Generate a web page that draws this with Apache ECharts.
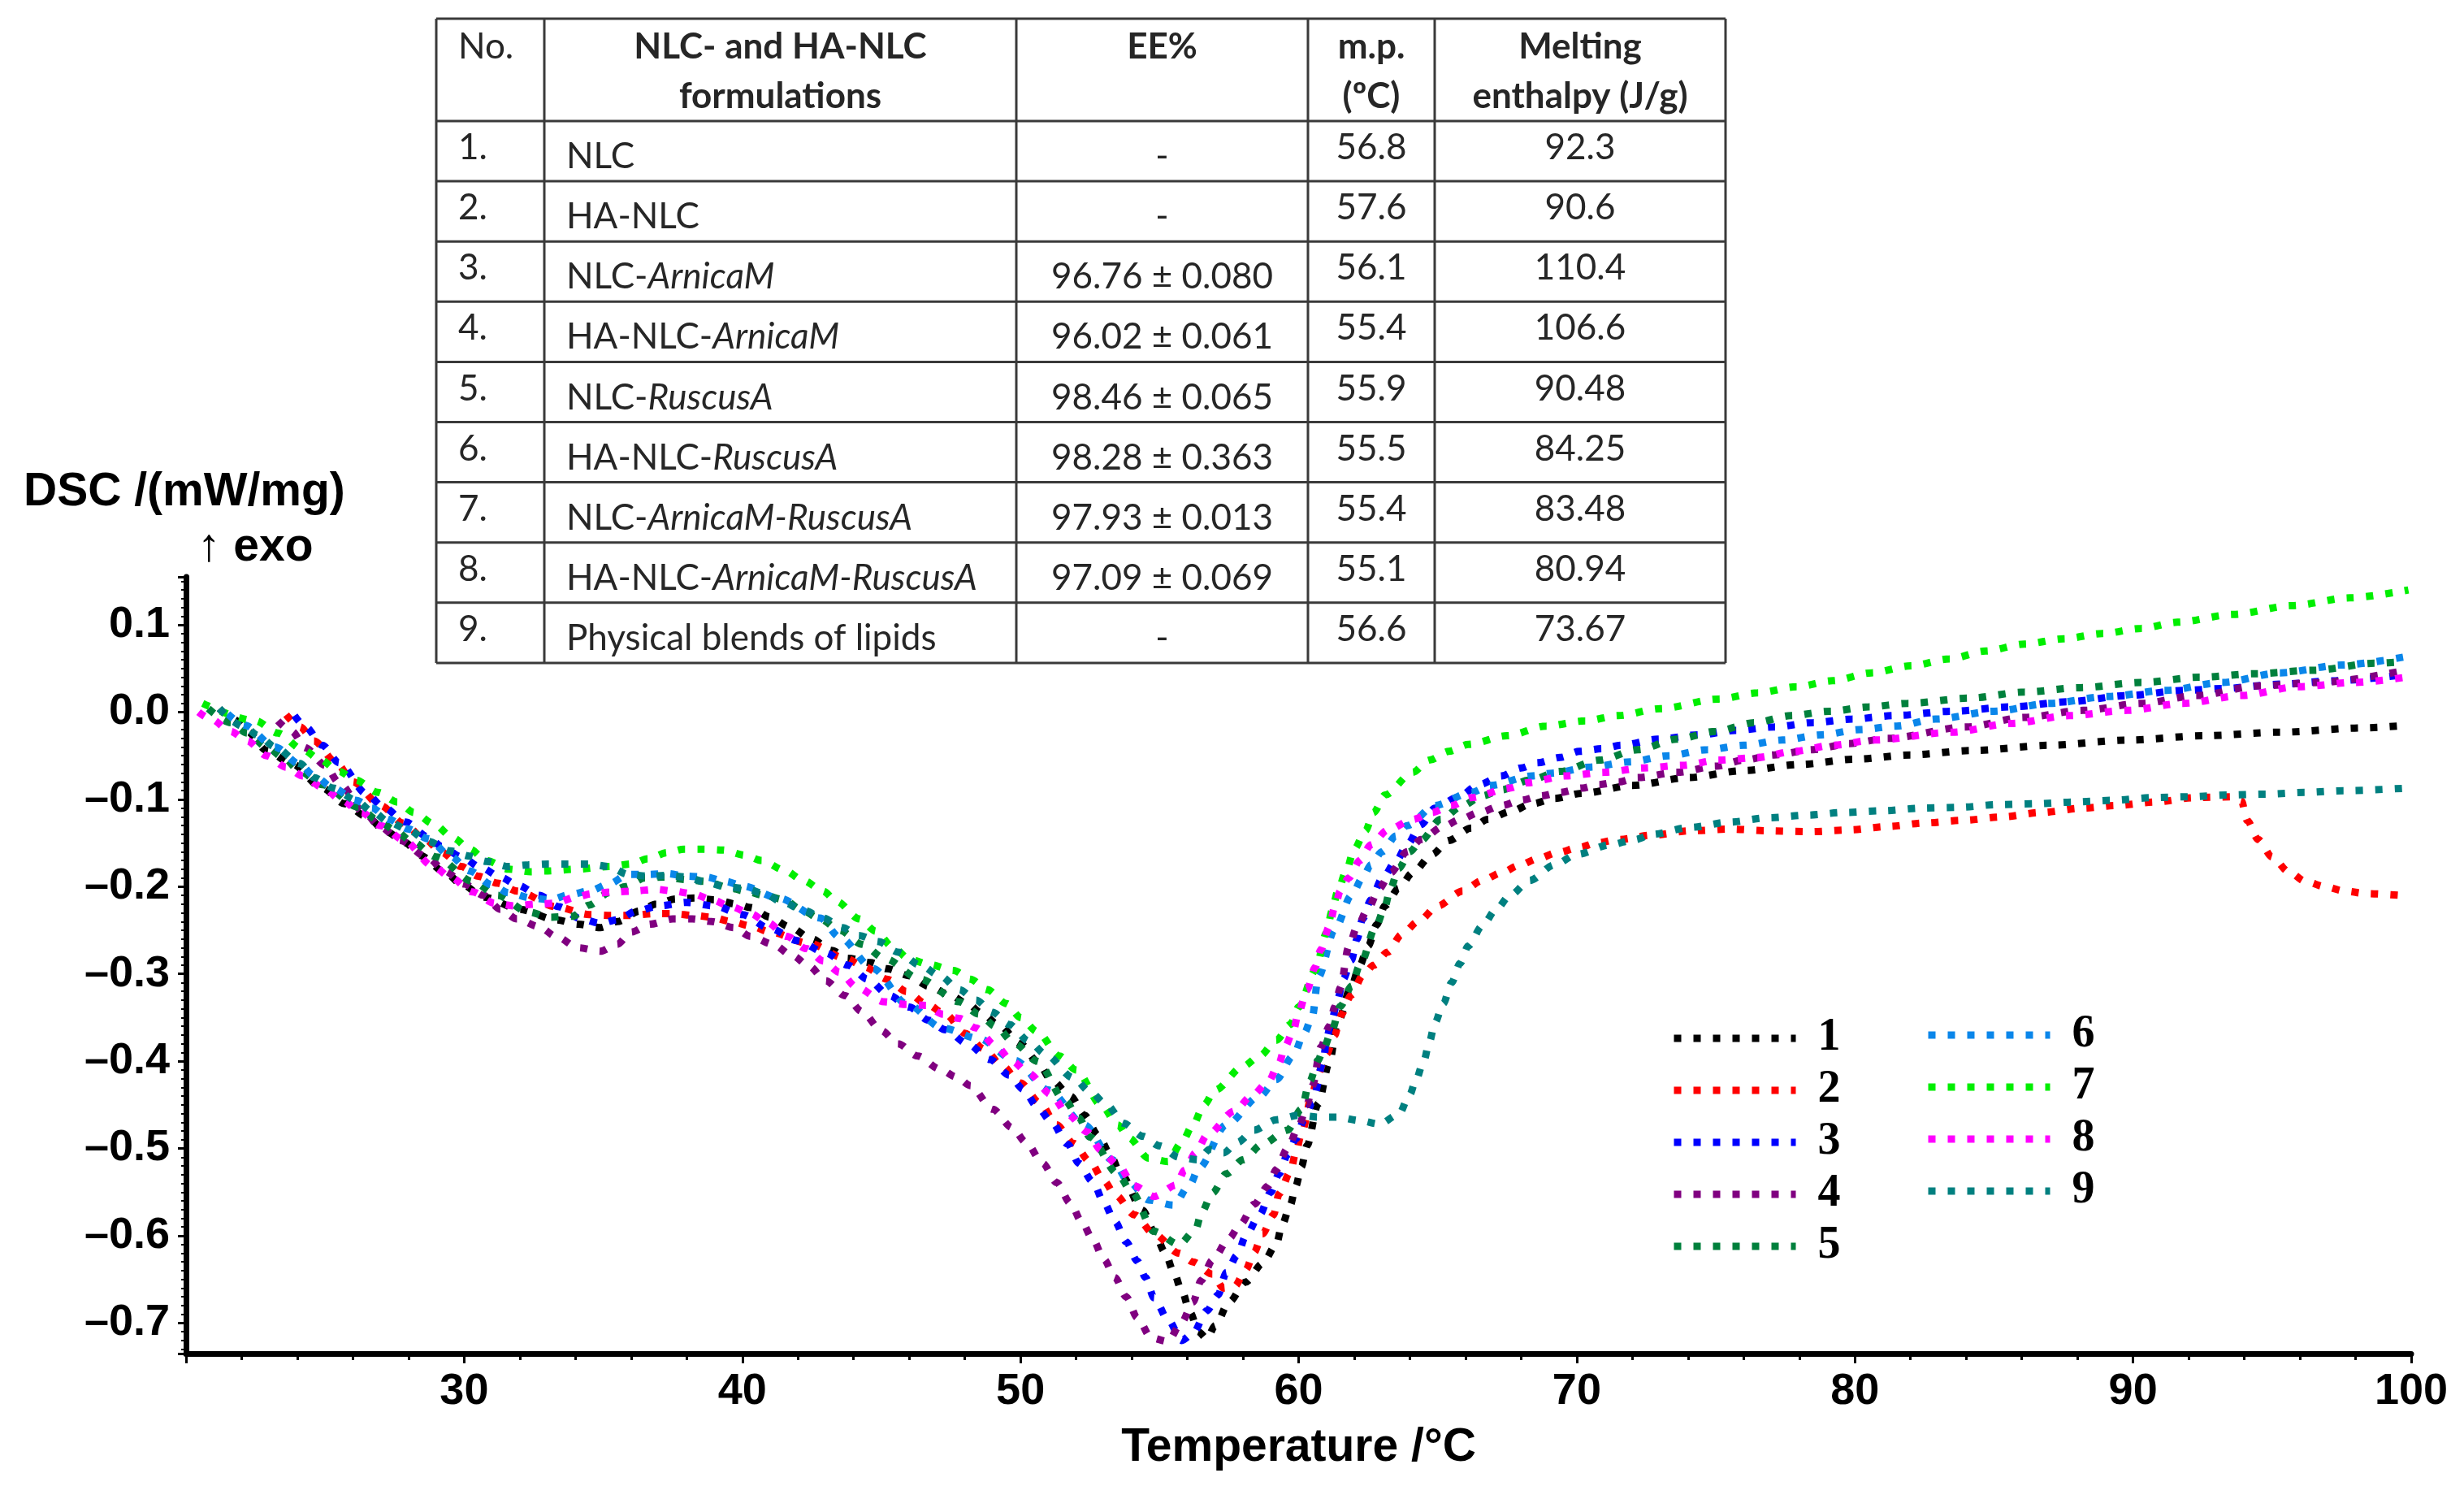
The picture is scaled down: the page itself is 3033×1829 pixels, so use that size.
<!DOCTYPE html>
<html>
<head>
<meta charset="utf-8">
<title>DSC curves</title>
<script src="https://cdn.jsdelivr.net/npm/echarts@6/dist/echarts.min.js"></script>
<style>
html, body { margin: 0; padding: 0; background: #fff; }
#main { width: 3033px; height: 1829px; }
</style>
</head>
<body>
<div id="main"></div>
<script>
'use strict';

// --- curves: [temperature (°C), DSC (mW/mg)] ---
var curve1 = [[21.2,0.004],[21.7,-0.008],[22.2,-0.022],[22.9,-0.044],[23.8,-0.059],[24.9,-0.087],[25.7,-0.105],[26.5,-0.12],[27.2,-0.137],[27.9,-0.15],[28.4,-0.164],[29.3,-0.183],[29.9,-0.197],[30.7,-0.212],[32.0,-0.226],[33.3,-0.238],[34.1,-0.243],[34.9,-0.247],[35.5,-0.24],[36.3,-0.228],[36.9,-0.22],[37.6,-0.214],[38.3,-0.213],[39.0,-0.215],[39.8,-0.22],[40.3,-0.224],[41.0,-0.235],[41.7,-0.246],[42.5,-0.26],[43.2,-0.273],[43.8,-0.282],[44.6,-0.287],[45.2,-0.294],[46.0,-0.302],[46.7,-0.314],[47.4,-0.323],[48.1,-0.334],[48.6,-0.345],[49.2,-0.358],[50.0,-0.38],[50.6,-0.4],[51.1,-0.421],[51.8,-0.44],[52.3,-0.462],[52.8,-0.485],[53.2,-0.505],[53.6,-0.529],[54.4,-0.571],[54.8,-0.595],[55.2,-0.619],[55.5,-0.641],[55.8,-0.663],[56.1,-0.688],[56.4,-0.71],[56.7,-0.718],[57.0,-0.703],[57.5,-0.676],[58.1,-0.653],[58.7,-0.632],[59.2,-0.61],[59.4,-0.588],[59.7,-0.565],[59.9,-0.543],[60.1,-0.521],[60.3,-0.497],[60.7,-0.449],[61.1,-0.402],[61.4,-0.356],[61.9,-0.314],[62.2,-0.29],[62.5,-0.268],[62.8,-0.244],[63.1,-0.222],[63.6,-0.202],[64.1,-0.184],[64.8,-0.163],[65.4,-0.147],[66.2,-0.133],[66.8,-0.123],[67.6,-0.114],[68.4,-0.105],[69.2,-0.099],[70.2,-0.093],[72.0,-0.084],[74.0,-0.075],[76.0,-0.067],[78.0,-0.06],[80.0,-0.054],[82.0,-0.049],[84.2,-0.044],[87.0,-0.038],[89.8,-0.032],[92.6,-0.027],[95.3,-0.023],[98.3,-0.018],[99.9,-0.015]];
var curve2 = [[23.6,-0.003],[24.1,-0.017],[24.6,-0.033],[25.4,-0.058],[26.0,-0.08],[27.0,-0.107],[27.8,-0.127],[28.6,-0.146],[29.2,-0.161],[29.9,-0.177],[30.5,-0.188],[31.2,-0.196],[31.9,-0.205],[33.3,-0.223],[34.5,-0.232],[35.3,-0.233],[36.0,-0.233],[36.8,-0.231],[37.5,-0.231],[38.3,-0.233],[38.9,-0.235],[39.6,-0.24],[40.3,-0.245],[41.0,-0.252],[42.4,-0.265],[43.7,-0.282],[44.4,-0.292],[45.2,-0.306],[45.9,-0.32],[46.6,-0.334],[47.3,-0.346],[48.0,-0.368],[48.7,-0.386],[49.3,-0.404],[50.0,-0.425],[50.7,-0.448],[51.3,-0.473],[51.9,-0.494],[52.5,-0.515],[53.0,-0.537],[53.4,-0.553],[54.1,-0.576],[54.8,-0.598],[55.7,-0.62],[56.2,-0.63],[56.9,-0.644],[57.3,-0.66],[57.7,-0.658],[58.1,-0.639],[58.4,-0.619],[58.7,-0.598],[59.1,-0.576],[59.3,-0.552],[59.7,-0.527],[59.9,-0.505],[60.1,-0.483],[60.5,-0.437],[60.7,-0.414],[61.0,-0.392],[61.3,-0.37],[61.5,-0.348],[61.9,-0.324],[62.3,-0.302],[62.7,-0.29],[63.2,-0.275],[63.7,-0.255],[64.3,-0.24],[65.0,-0.222],[65.9,-0.205],[66.6,-0.193],[67.3,-0.184],[67.9,-0.176],[68.6,-0.168],[69.3,-0.161],[70.1,-0.155],[70.7,-0.15],[71.5,-0.146],[72.7,-0.141],[74.1,-0.136],[75.5,-0.134],[76.9,-0.136],[78.4,-0.137],[79.8,-0.135],[81.2,-0.131],[82.5,-0.127],[83.9,-0.124],[85.3,-0.12],[86.7,-0.115],[88.2,-0.11],[89.4,-0.107],[90.8,-0.103],[92.2,-0.098],[93.6,-0.097],[93.9,-0.102],[94.1,-0.124],[94.5,-0.146],[95.0,-0.166],[95.6,-0.183],[96.2,-0.194],[96.9,-0.2],[97.6,-0.205],[98.4,-0.208],[99.6,-0.21]];
var curve3 = [[23.9,-0.004],[24.3,-0.017],[24.9,-0.038],[25.5,-0.058],[26.5,-0.094],[27.1,-0.109],[27.9,-0.126],[28.7,-0.143],[29.2,-0.154],[29.9,-0.166],[30.6,-0.178],[31.3,-0.189],[31.9,-0.198],[32.7,-0.21],[33.4,-0.223],[34.2,-0.237],[34.9,-0.242],[35.5,-0.238],[36.2,-0.228],[37.0,-0.222],[38.0,-0.218],[39.0,-0.222],[40.0,-0.232],[41.0,-0.248],[42.0,-0.262],[43.0,-0.276],[43.8,-0.29],[44.5,-0.306],[45.3,-0.325],[46.0,-0.338],[46.7,-0.353],[47.3,-0.364],[48.1,-0.38],[48.9,-0.398],[49.6,-0.416],[50.1,-0.432],[50.6,-0.452],[51.1,-0.469],[51.7,-0.495],[52.1,-0.517],[52.6,-0.538],[53.0,-0.562],[53.4,-0.584],[53.8,-0.607],[54.2,-0.629],[54.5,-0.648],[54.8,-0.671],[55.3,-0.696],[55.8,-0.72],[56.2,-0.712],[56.7,-0.686],[57.1,-0.668],[57.4,-0.642],[57.8,-0.622],[58.1,-0.6],[58.6,-0.576],[59.0,-0.55],[59.3,-0.529],[59.6,-0.507],[59.9,-0.489],[60.2,-0.467],[60.5,-0.447],[60.9,-0.399],[61.0,-0.374],[61.2,-0.352],[61.4,-0.33],[61.6,-0.306],[61.9,-0.284],[62.1,-0.26],[62.3,-0.237],[62.6,-0.215],[63.0,-0.191],[63.5,-0.171],[63.9,-0.152],[64.4,-0.129],[64.9,-0.11],[65.7,-0.098],[66.5,-0.083],[67.3,-0.073],[68.0,-0.064],[68.6,-0.058],[69.4,-0.052],[70.1,-0.045],[70.9,-0.042],[71.6,-0.038],[72.9,-0.031],[74.4,-0.026],[75.7,-0.021],[77.1,-0.017],[78.5,-0.012],[79.9,-0.008],[81.4,-0.004],[83.5,0.001],[85.6,0.006],[87.7,0.012],[89.8,0.019],[91.9,0.025],[93.2,0.027],[95.3,0.032],[97.3,0.036],[99.8,0.043]];
var curve4 = [[23.3,-0.01],[23.8,-0.022],[24.3,-0.041],[25.0,-0.061],[25.5,-0.081],[26.4,-0.115],[27.0,-0.132],[27.7,-0.147],[28.7,-0.167],[29.3,-0.182],[30.0,-0.197],[30.7,-0.21],[31.3,-0.226],[31.9,-0.237],[32.7,-0.246],[33.3,-0.257],[34.1,-0.27],[34.9,-0.274],[35.5,-0.266],[36.0,-0.252],[36.7,-0.243],[37.5,-0.237],[38.2,-0.237],[38.9,-0.24],[39.7,-0.247],[40.3,-0.257],[41.1,-0.266],[41.8,-0.279],[42.4,-0.291],[43.0,-0.308],[43.7,-0.325],[44.3,-0.343],[45.0,-0.365],[45.6,-0.38],[46.3,-0.394],[47.1,-0.409],[47.7,-0.418],[48.2,-0.428],[49.0,-0.455],[49.7,-0.476],[50.2,-0.493],[50.8,-0.517],[51.3,-0.539],[51.8,-0.563],[52.2,-0.584],[52.6,-0.604],[53.0,-0.627],[53.4,-0.648],[53.8,-0.67],[54.2,-0.694],[54.7,-0.717],[55.3,-0.721],[55.8,-0.699],[56.2,-0.676],[56.5,-0.651],[56.9,-0.628],[57.5,-0.603],[57.9,-0.587],[58.4,-0.564],[58.9,-0.543],[59.2,-0.524],[59.6,-0.5],[60.0,-0.475],[60.3,-0.45],[60.5,-0.428],[60.8,-0.384],[61.1,-0.36],[61.3,-0.338],[61.5,-0.316],[61.8,-0.269],[62.1,-0.246],[62.5,-0.225],[62.9,-0.202],[63.3,-0.184],[63.9,-0.16],[64.4,-0.146],[65.2,-0.131],[65.8,-0.123],[66.5,-0.115],[67.3,-0.107],[68.0,-0.101],[68.7,-0.096],[69.4,-0.092],[70.2,-0.087],[70.8,-0.083],[71.5,-0.08],[72.2,-0.075],[73.6,-0.069],[75.0,-0.062],[76.0,-0.055],[77.1,-0.049],[78.5,-0.043],[79.8,-0.036],[81.2,-0.03],[84.0,-0.017],[86.1,-0.006],[88.2,0.002],[90.3,0.01],[92.3,0.019],[94.5,0.03],[96.7,0.034],[99.8,0.048]];
var curve5 = [[20.8,0.004],[21.6,-0.012],[22.2,-0.024],[22.9,-0.04],[23.5,-0.052],[24.1,-0.068],[24.9,-0.083],[26.2,-0.109],[26.9,-0.124],[27.5,-0.135],[28.1,-0.148],[29.0,-0.166],[30.3,-0.194],[31.2,-0.21],[32.3,-0.229],[33.1,-0.235],[33.9,-0.234],[34.5,-0.221],[35.2,-0.207],[35.8,-0.2],[36.5,-0.19],[37.2,-0.189],[38.0,-0.192],[38.7,-0.194],[39.5,-0.201],[40.1,-0.205],[40.8,-0.21],[41.5,-0.215],[42.1,-0.226],[42.8,-0.237],[43.5,-0.25],[44.3,-0.266],[45.1,-0.282],[46.4,-0.306],[47.8,-0.332],[48.5,-0.346],[49.1,-0.36],[49.8,-0.38],[50.6,-0.4],[51.6,-0.445],[52.1,-0.465],[52.5,-0.487],[53.5,-0.529],[54.0,-0.55],[54.8,-0.595],[55.7,-0.61],[56.3,-0.593],[56.5,-0.574],[56.9,-0.551],[57.4,-0.529],[58.0,-0.513],[58.7,-0.495],[59.6,-0.479],[60.1,-0.455],[60.4,-0.423],[60.7,-0.399],[60.9,-0.385],[61.2,-0.364],[61.5,-0.337],[61.9,-0.314],[62.2,-0.29],[62.8,-0.244],[63.1,-0.223],[63.3,-0.202],[63.6,-0.179],[64.0,-0.16],[64.4,-0.147],[65.1,-0.123],[65.9,-0.107],[66.6,-0.096],[67.3,-0.089],[68.3,-0.078],[69.4,-0.068],[70.8,-0.055],[72.2,-0.043],[73.6,-0.031],[75.0,-0.022],[76.4,-0.012],[77.7,-0.004],[79.1,0.001],[80.5,0.006],[81.9,0.01],[84.1,0.016],[86.1,0.023],[88.1,0.028],[90.3,0.034],[92.4,0.04],[94.4,0.044],[96.5,0.048],[98.7,0.056],[99.8,0.058]];
var curve6 = [[21.5,-0.002],[22.1,-0.015],[23.2,-0.04],[24.1,-0.06],[24.6,-0.073],[25.3,-0.087],[26.1,-0.101],[26.7,-0.11],[27.3,-0.123],[28.0,-0.134],[28.7,-0.145],[29.5,-0.165],[30.2,-0.182],[31.0,-0.198],[31.6,-0.207],[32.4,-0.213],[33.1,-0.215],[33.8,-0.209],[34.5,-0.205],[35.2,-0.197],[35.9,-0.186],[36.6,-0.186],[37.3,-0.185],[38.0,-0.188],[38.7,-0.189],[39.4,-0.194],[40.0,-0.199],[41.3,-0.213],[42.8,-0.236],[43.5,-0.258],[44.7,-0.294],[45.9,-0.334],[47.2,-0.362],[48.5,-0.374],[49.8,-0.399],[51.0,-0.433],[52.3,-0.473],[53.3,-0.513],[53.9,-0.538],[54.6,-0.559],[55.5,-0.565],[56.1,-0.541],[56.4,-0.523],[57.4,-0.473],[58.6,-0.44],[59.2,-0.421],[59.8,-0.394],[60.2,-0.368],[60.5,-0.348],[60.7,-0.304],[61.3,-0.249],[61.9,-0.21],[62.3,-0.19],[62.6,-0.175],[63.0,-0.16],[63.5,-0.142],[63.9,-0.13],[64.9,-0.107],[66.2,-0.092],[66.9,-0.084],[68.4,-0.073],[69.1,-0.07],[70.5,-0.063],[71.9,-0.057],[73.3,-0.05],[74.7,-0.043],[76.0,-0.038],[77.4,-0.032],[78.8,-0.026],[80.2,-0.02],[81.5,-0.016],[82.9,-0.008],[85.0,0.001],[87.0,0.01],[89.1,0.018],[91.2,0.025],[93.2,0.034],[95.3,0.045],[97.5,0.054],[99.9,0.064]];
var curve7 = [[20.6,0.01],[22.5,-0.01],[23.3,-0.024],[24.2,-0.043],[24.8,-0.054],[25.5,-0.068],[26.1,-0.078],[26.9,-0.092],[27.6,-0.103],[28.2,-0.115],[28.9,-0.128],[29.6,-0.144],[30.2,-0.157],[30.8,-0.17],[31.6,-0.18],[32.4,-0.183],[33.0,-0.182],[34.0,-0.18],[35.2,-0.177],[36.0,-0.174],[36.6,-0.168],[37.3,-0.161],[37.9,-0.157],[38.6,-0.157],[39.3,-0.158],[40.1,-0.164],[40.7,-0.17],[41.5,-0.181],[42.2,-0.193],[42.9,-0.205],[43.4,-0.217],[44.2,-0.237],[44.8,-0.251],[45.4,-0.269],[46.0,-0.283],[46.7,-0.289],[47.6,-0.296],[48.2,-0.306],[48.8,-0.318],[49.5,-0.334],[50.0,-0.35],[50.6,-0.366],[51.4,-0.394],[52.0,-0.41],[52.9,-0.45],[53.5,-0.473],[53.9,-0.488],[54.6,-0.511],[55.3,-0.515],[55.8,-0.493],[56.2,-0.473],[56.6,-0.45],[57.0,-0.433],[58.0,-0.406],[58.6,-0.394],[59.2,-0.376],[59.7,-0.358],[60.0,-0.338],[60.6,-0.296],[61.0,-0.253],[61.2,-0.228],[61.4,-0.206],[61.7,-0.183],[62.0,-0.157],[62.4,-0.136],[62.7,-0.115],[63.1,-0.095],[64.1,-0.069],[64.7,-0.055],[65.4,-0.045],[66.1,-0.037],[67.5,-0.027],[68.9,-0.016],[70.3,-0.01],[71.5,-0.004],[73.0,0.004],[75.1,0.015],[76.5,0.022],[77.9,0.029],[79.2,0.036],[80.6,0.045],[82.0,0.053],[83.4,0.061],[84.7,0.07],[86.1,0.078],[87.5,0.084],[88.9,0.09],[90.3,0.096],[91.6,0.103],[93.6,0.112],[95.7,0.122],[97.8,0.131],[99.9,0.14]];
var curve8 = [[20.45,0.0],[20.9,-0.008],[21.6,-0.022],[22.2,-0.033],[22.9,-0.05],[23.6,-0.063],[24.2,-0.073],[24.9,-0.086],[25.6,-0.101],[26.3,-0.115],[27.0,-0.13],[27.8,-0.146],[28.9,-0.177],[29.5,-0.189],[30.3,-0.206],[31.1,-0.219],[31.8,-0.222],[32.6,-0.22],[33.3,-0.219],[34.0,-0.212],[34.6,-0.208],[35.4,-0.206],[36.1,-0.205],[36.9,-0.203],[37.5,-0.205],[38.2,-0.208],[38.9,-0.215],[39.6,-0.223],[40.3,-0.231],[40.9,-0.241],[41.6,-0.257],[42.3,-0.271],[42.9,-0.285],[43.5,-0.298],[44.1,-0.315],[45.1,-0.332],[45.9,-0.335],[46.6,-0.336],[47.2,-0.346],[47.8,-0.351],[48.4,-0.362],[49.1,-0.382],[49.7,-0.4],[50.3,-0.414],[51.1,-0.438],[51.7,-0.461],[52.4,-0.481],[52.9,-0.502],[53.5,-0.519],[54.1,-0.543],[54.8,-0.555],[55.6,-0.542],[55.9,-0.525],[56.3,-0.505],[56.7,-0.485],[57.7,-0.457],[58.3,-0.44],[58.9,-0.424],[59.3,-0.402],[59.5,-0.384],[59.8,-0.366],[60.0,-0.344],[60.3,-0.318],[60.6,-0.292],[60.8,-0.272],[61.1,-0.246],[61.3,-0.223],[61.5,-0.205],[61.8,-0.19],[62.2,-0.17],[62.6,-0.152],[63.2,-0.135],[64.1,-0.123],[64.8,-0.115],[65.5,-0.107],[66.2,-0.098],[67.6,-0.087],[68.2,-0.081],[69.6,-0.073],[71.0,-0.069],[72.4,-0.064],[73.8,-0.061],[75.1,-0.055],[76.5,-0.052],[77.8,-0.045],[79.2,-0.038],[80.7,-0.032],[83.5,-0.023],[85.6,-0.013],[87.7,-0.004],[89.8,0.002],[91.8,0.01],[93.9,0.019],[95.9,0.029],[98.0,0.034],[99.8,0.04]];
var curve9 = [[21.2,0.004],[22.1,-0.017],[22.6,-0.027],[23.2,-0.04],[24.1,-0.059],[24.6,-0.075],[25.3,-0.087],[26.1,-0.101],[26.7,-0.114],[27.3,-0.126],[28.0,-0.135],[28.7,-0.148],[29.5,-0.159],[30.2,-0.165],[30.8,-0.171],[31.6,-0.177],[32.3,-0.175],[33.0,-0.174],[33.7,-0.174],[34.5,-0.174],[35.2,-0.177],[35.9,-0.186],[36.6,-0.188],[37.3,-0.187],[38.0,-0.189],[38.7,-0.195],[39.4,-0.2],[40.1,-0.202],[40.8,-0.208],[41.4,-0.217],[42.2,-0.227],[42.9,-0.236],[43.6,-0.247],[44.2,-0.256],[44.9,-0.263],[45.6,-0.275],[46.4,-0.29],[47.1,-0.302],[47.8,-0.318],[48.4,-0.33],[49.0,-0.344],[49.6,-0.358],[50.3,-0.377],[50.9,-0.392],[51.9,-0.419],[52.5,-0.435],[53.1,-0.45],[53.7,-0.471],[54.4,-0.486],[55.0,-0.497],[55.7,-0.51],[56.4,-0.513],[56.8,-0.501],[57.3,-0.505],[57.8,-0.493],[58.4,-0.479],[59.2,-0.467],[60.0,-0.462],[60.7,-0.464],[61.4,-0.464],[62.2,-0.468],[62.9,-0.472],[63.6,-0.461],[64.0,-0.438],[64.2,-0.423],[64.5,-0.4],[64.7,-0.378],[64.9,-0.356],[65.2,-0.334],[65.5,-0.31],[65.8,-0.288],[66.1,-0.268],[66.6,-0.245],[67.1,-0.226],[67.6,-0.21],[68.3,-0.193],[69.2,-0.175],[70.0,-0.163],[71.2,-0.152],[72.1,-0.146],[72.7,-0.14],[74.1,-0.132],[75.5,-0.126],[76.9,-0.121],[78.3,-0.118],[79.6,-0.115],[81.0,-0.113],[82.4,-0.11],[83.8,-0.109],[85.1,-0.106],[86.5,-0.105],[87.9,-0.103],[89.3,-0.101],[90.7,-0.098],[92.0,-0.097],[93.4,-0.095],[94.8,-0.094],[96.2,-0.092],[97.6,-0.09],[99.9,-0.087]];

var curves = [curve1, curve2, curve3, curve4, curve5, curve6, curve7, curve8, curve9];
var seriesNames = ['1', '2', '3', '4', '5', '6', '7', '8', '9'];
var seriesColors = ['#000000', '#ff0000', '#0000ff', '#800080', '#00803c', '#0a86ea', '#00ee00', '#ff00ff', '#008080'];

// --- inset table ---
var tableHead = [['No.', ''], ['NLC- and HA-NLC', 'formulations'], ['EE%', ''], ['m.p.', '(\u00baC)'], ['Melting', 'enthalpy (J/g)']];
var tableNo = ['1.', '2.', '3.', '4.', '5.', '6.', '7.', '8.', '9.'];
var tableName = ['NLC', 'HA-NLC', 'NLC-{i|ArnicaM}', 'HA-NLC-{i|ArnicaM}', 'NLC-{i|RuscusA}', 'HA-NLC-{i|RuscusA}',
    'NLC-{i|ArnicaM-RuscusA}', 'HA-NLC-{i|ArnicaM-RuscusA}', 'Physical blends of lipids'];
var tableEE = ['-', '-', '96.76 \u00b1 0.080', '96.02 \u00b1 0.061', '98.46 \u00b1 0.065', '98.28 \u00b1 0.363',
    '97.93 \u00b1 0.013', '97.09 \u00b1 0.069', '-'];
var tableMp = ['56.8', '57.6', '56.1', '55.4', '55.9', '55.5', '55.4', '55.1', '56.6'];
var tableEnthalpy = ['92.3', '90.6', '110.4', '106.6', '90.48', '84.25', '83.48', '80.94', '73.67'];

(function () {
    var chart = echarts.init(document.getElementById('main'));
    var SANS = '"Liberation Sans", Arial, sans-serif';
    var TFONT = 'Lato, "Noto Sans", sans-serif';
    var TCOL = '#262626';
    var DOTS = [9, 15];

    // table geometry
    var colX = [537, 670, 1251, 1610, 1766, 2124];
    var topY = 23, headY = 149, rowH = 74.1;
    var bottomY = headY + rowH * tableNo.length;
    var g = [];
    function line(x1, y1, x2, y2) {
        g.push({ type: 'line', silent: true, shape: { x1: x1, y1: y1, x2: x2, y2: y2 },
            style: { stroke: '#3a3a3a', lineWidth: 3 } });
    }
    function text(str, x, y, align, bold) {
        g.push({ type: 'text', silent: true, x: x, y: y, style: {
            text: str, fill: TCOL, fontSize: 44, fontFamily: TFONT, fontWeight: bold ? 'bold' : 'normal',
            align: align, textAlign: align, verticalAlign: 'middle', textVerticalAlign: 'middle',
            rich: { i: { fontStyle: 'italic', fontSize: 44, fontFamily: TFONT, fill: TCOL } }
        } });
    }
    line(colX[0], topY, colX[5], topY);
    line(colX[0], headY, colX[5], headY);
    for (var r = 1; r <= tableNo.length; r++) line(colX[0], headY + r * rowH, colX[5], headY + r * rowH);
    for (var c = 0; c < colX.length; c++) line(colX[c], topY, colX[c], bottomY);

    text(tableHead[0][0], colX[0] + 27, 58, 'left', false);
    for (var h = 1; h < tableHead.length; h++) {
        var cx = (colX[h] + colX[h + 1]) / 2;
        text(tableHead[h][0], cx, 58, 'center', true);
        if (tableHead[h][1]) text(tableHead[h][1], cx, 119, 'center', true);
    }
    for (var i = 0; i < tableNo.length; i++) {
        var top = headY + i * rowH;
        text(tableNo[i], colX[0] + 27, top + 33, 'left', false);
        text(tableName[i], colX[1] + 27, top + 44, 'left', false);
        text(tableEE[i], (colX[2] + colX[3]) / 2, top + 44, 'center', false);
        text(tableMp[i], (colX[3] + colX[4]) / 2, top + 33, 'center', false);
        text(tableEnthalpy[i], (colX[4] + colX[5]) / 2, top + 33, 'center', false);
    }

    // y axis title
    g.push({ type: 'text', silent: true, x: 29, y: 606, style: { text: 'DSC /(mW/mg)', fill: '#000',
        fontSize: 57, fontWeight: 'bold', fontFamily: SANS, verticalAlign: 'middle', textVerticalAlign: 'middle' } });
    g.push({ type: 'text', silent: true, x: 243, y: 674, style: { text: '\u2191 exo', fill: '#000',
        fontSize: 57, fontWeight: 'bold', fontFamily: SANS, verticalAlign: 'middle', textVerticalAlign: 'middle' } });

    var series = curves.map(function (d, k) {
        return {
            name: seriesNames[k],
            type: 'line',
            data: d,
            symbol: 'none',
            showSymbol: false,
            smooth: 0.3,
            smoothMonotone: 'x',
            silent: true,
            lineStyle: { color: seriesColors[k], width: 9, type: DOTS, cap: 'butt' },
            itemStyle: { color: seriesColors[k] },
            emphasis: { disabled: true }
        };
    });

    function legendAt(left, top, names) {
        return {
            orient: 'vertical',
            left: left,
            top: top,
            data: names,
            itemWidth: 150,
            itemHeight: 10,
            itemGap: 8,
            selectedMode: false,
            lineStyle: { width: 9, type: DOTS, cap: 'butt' },
            itemStyle: { color: 'transparent', borderColor: 'transparent', borderWidth: 0, opacity: 0 },
            textStyle: { fontFamily: '"Liberation Serif", "Times New Roman", serif', fontWeight: 'bold',
                fontSize: 56, lineHeight: 56, color: '#000', padding: [0, 0, 0, 22] }
        };
    }

    chart.setOption({
        animation: false,
        backgroundColor: '#fff',
        grid: { left: 229, right: 65, top: 710, bottom: 163, containLabel: false },
        legend: [
            legendAt(2051, 1245, seriesNames.slice(0, 5)),
            legendAt(2364, 1241, seriesNames.slice(5))
        ],
        xAxis: {
            type: 'value', min: 20, max: 100, interval: 10,
            name: 'Temperature /\u00b0C', nameLocation: 'middle', nameGap: 88,
            nameTextStyle: { fontSize: 57, fontWeight: 'bold', fontFamily: SANS, color: '#000' },
            axisLine: { show: true, onZero: false, lineStyle: { color: '#000', width: 7 } },
            axisTick: { show: true, inside: false, length: 12, lineStyle: { color: '#000', width: 3 } },
            minorTick: { show: true, splitNumber: 5, length: 8, lineStyle: { color: '#000', width: 3 } },
            axisLabel: { margin: 20, fontSize: 54, fontWeight: 'bold', fontFamily: SANS, color: '#000',
                formatter: function (v) { return v === 20 ? '' : String(v); } },
            splitLine: { show: false }
        },
        yAxis: {
            type: 'value', min: -0.735, max: 0.155, splitNumber: 9, minInterval: 0.1, maxInterval: 0.1,
            axisLine: { show: true, onZero: false, lineStyle: { color: '#000', width: 7 } },
            axisTick: { show: true, inside: false, length: 10, lineStyle: { color: '#000', width: 3 } },
            minorTick: { show: true, splitNumber: 10, length: 6, lineStyle: { color: '#000', width: 2 } },
            axisLabel: { margin: 20, fontSize: 54, fontWeight: 'bold', fontFamily: SANS, color: '#000',
                showMinLabel: false, showMaxLabel: false,
                formatter: function (v) {
                    if (Math.abs(v) < 1e-9) return '0.0';
                    return (v < 0 ? '\u2013' : '') + Math.abs(v).toFixed(1);
                } },
            splitLine: { show: false }
        },
        graphic: g,
        series: series
    });
})();
</script>
</body>
</html>
